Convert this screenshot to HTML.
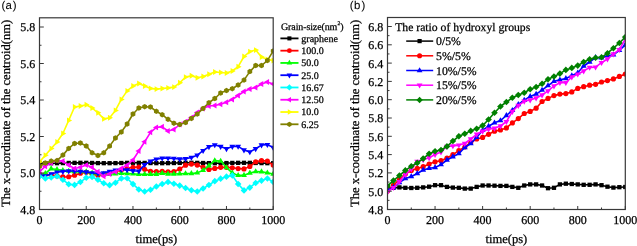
<!DOCTYPE html>
<html><head><meta charset="utf-8"><style>
html,body{margin:0;padding:0;background:#fff;}
body{width:637px;height:246px;overflow:hidden;font-family:"Liberation Serif",serif;}
svg{display:block;will-change:transform;}
text{text-rendering:geometricPrecision;stroke:#000;stroke-width:0.25px;}
</style></head><body>
<svg width="637" height="246" viewBox="0 0 637 246">
<text transform="translate(10.0,113.45) rotate(-90)" text-anchor="middle" font-family="Liberation Serif, serif" font-size="12.59">The x-coordinate of the centroid(nm)</text>
<text transform="translate(358.6,113.45) rotate(-90)" text-anchor="middle" font-family="Liberation Serif, serif" font-size="12.59">The x-coordinate of the centroid(nm)</text>
<text x="1.4" y="8.9" font-family="Liberation Sans, sans-serif" font-size="11.4" style="stroke-width:0.08px">(<tspan dx="0.2">a</tspan><tspan dx="1.1">)</tspan></text>
<text x="349.8" y="8.9" font-family="Liberation Sans, sans-serif" font-size="11.4" style="stroke-width:0.08px">(<tspan dx="0.4">b</tspan><tspan dx="1.2">)</tspan></text>
<defs><clipPath id="ca"><rect x="39.5" y="17.8" width="233.70" height="191.70"/></clipPath><clipPath id="cb"><rect x="387.5" y="17.5" width="237.80" height="192.00"/></clipPath></defs>
<g clip-path="url(#ca)"><path d="M39.50,163.00 L45.34,163.13 L51.19,163.20 L57.03,163.18 L62.87,163.08 L68.71,162.95 L74.56,162.84 L80.40,162.80 L86.24,162.85 L92.08,162.96 L97.92,163.09 L103.77,163.18 L109.61,163.19 L115.45,163.12 L121.30,162.99 L127.14,162.87 L132.98,162.80 L138.82,162.82 L144.67,162.92 L150.51,163.05 L156.35,163.16 L162.19,163.20 L168.03,163.15 L173.88,163.03 L179.72,162.90 L185.56,162.81 L191.41,162.81 L197.25,162.89 L203.09,163.01 L208.93,163.14 L214.78,163.20 L220.62,163.17 L226.46,163.07 L232.30,162.94 L238.15,162.83 L243.99,162.80 L249.83,162.86 L255.67,162.97 L261.51,163.10 L267.36,163.19 L273.20,163.19" fill="none" stroke="#000000" stroke-width="1.6" stroke-linejoin="round"/>
<rect x="37.35" y="160.85" width="4.29" height="4.29" fill="#000000"/>
<rect x="43.20" y="160.98" width="4.29" height="4.29" fill="#000000"/>
<rect x="49.04" y="161.05" width="4.29" height="4.29" fill="#000000"/>
<rect x="54.88" y="161.03" width="4.29" height="4.29" fill="#000000"/>
<rect x="60.73" y="160.94" width="4.29" height="4.29" fill="#000000"/>
<rect x="66.57" y="160.81" width="4.29" height="4.29" fill="#000000"/>
<rect x="72.41" y="160.70" width="4.29" height="4.29" fill="#000000"/>
<rect x="78.25" y="160.66" width="4.29" height="4.29" fill="#000000"/>
<rect x="84.10" y="160.70" width="4.29" height="4.29" fill="#000000"/>
<rect x="89.94" y="160.81" width="4.29" height="4.29" fill="#000000"/>
<rect x="95.78" y="160.95" width="4.29" height="4.29" fill="#000000"/>
<rect x="101.62" y="161.04" width="4.29" height="4.29" fill="#000000"/>
<rect x="107.47" y="161.05" width="4.29" height="4.29" fill="#000000"/>
<rect x="113.31" y="160.97" width="4.29" height="4.29" fill="#000000"/>
<rect x="119.15" y="160.85" width="4.29" height="4.29" fill="#000000"/>
<rect x="124.99" y="160.72" width="4.29" height="4.29" fill="#000000"/>
<rect x="130.84" y="160.66" width="4.29" height="4.29" fill="#000000"/>
<rect x="136.68" y="160.68" width="4.29" height="4.29" fill="#000000"/>
<rect x="142.52" y="160.78" width="4.29" height="4.29" fill="#000000"/>
<rect x="148.36" y="160.91" width="4.29" height="4.29" fill="#000000"/>
<rect x="154.20" y="161.02" width="4.29" height="4.29" fill="#000000"/>
<rect x="160.05" y="161.05" width="4.29" height="4.29" fill="#000000"/>
<rect x="165.89" y="161.00" width="4.29" height="4.29" fill="#000000"/>
<rect x="171.73" y="160.89" width="4.29" height="4.29" fill="#000000"/>
<rect x="177.57" y="160.76" width="4.29" height="4.29" fill="#000000"/>
<rect x="183.42" y="160.67" width="4.29" height="4.29" fill="#000000"/>
<rect x="189.26" y="160.66" width="4.29" height="4.29" fill="#000000"/>
<rect x="195.10" y="160.74" width="4.29" height="4.29" fill="#000000"/>
<rect x="200.94" y="160.87" width="4.29" height="4.29" fill="#000000"/>
<rect x="206.79" y="160.99" width="4.29" height="4.29" fill="#000000"/>
<rect x="212.63" y="161.05" width="4.29" height="4.29" fill="#000000"/>
<rect x="218.47" y="161.03" width="4.29" height="4.29" fill="#000000"/>
<rect x="224.31" y="160.93" width="4.29" height="4.29" fill="#000000"/>
<rect x="230.16" y="160.79" width="4.29" height="4.29" fill="#000000"/>
<rect x="236.00" y="160.69" width="4.29" height="4.29" fill="#000000"/>
<rect x="241.84" y="160.66" width="4.29" height="4.29" fill="#000000"/>
<rect x="247.69" y="160.71" width="4.29" height="4.29" fill="#000000"/>
<rect x="253.53" y="160.83" width="4.29" height="4.29" fill="#000000"/>
<rect x="259.37" y="160.96" width="4.29" height="4.29" fill="#000000"/>
<rect x="265.21" y="161.04" width="4.29" height="4.29" fill="#000000"/>
<rect x="271.06" y="161.04" width="4.29" height="4.29" fill="#000000"/>
<path d="M39.50,174.04 L45.34,174.57 L51.19,175.15 L57.03,175.89 L62.87,176.93 L68.71,176.76 L74.56,175.25 L80.40,173.28 L86.24,172.24 L92.08,174.09 L97.92,175.13 L103.77,174.22 L109.61,173.24 L115.45,171.67 L121.30,169.98 L127.14,168.51 L132.98,167.24 L138.82,166.99 L144.67,169.34 L150.51,171.31 L156.35,171.51 L162.19,171.43 L168.03,171.78 L173.88,171.47 L179.72,169.01 L185.56,165.20 L191.41,164.06 L197.25,165.05 L203.09,167.34 L208.93,169.53 L214.78,168.40 L220.62,167.35 L226.46,167.30 L232.30,167.83 L238.15,168.55 L243.99,168.88 L249.83,166.54 L255.67,161.79 L261.51,160.66 L267.36,161.06 L273.20,165.10" fill="none" stroke="#ff0000" stroke-width="1.6" stroke-linejoin="round"/>
<circle cx="39.50" cy="174.04" r="2.58" fill="#ff0000"/>
<circle cx="45.34" cy="174.57" r="2.58" fill="#ff0000"/>
<circle cx="51.19" cy="175.15" r="2.58" fill="#ff0000"/>
<circle cx="57.03" cy="175.89" r="2.58" fill="#ff0000"/>
<circle cx="62.87" cy="176.93" r="2.58" fill="#ff0000"/>
<circle cx="68.71" cy="176.76" r="2.58" fill="#ff0000"/>
<circle cx="74.56" cy="175.25" r="2.58" fill="#ff0000"/>
<circle cx="80.40" cy="173.28" r="2.58" fill="#ff0000"/>
<circle cx="86.24" cy="172.24" r="2.58" fill="#ff0000"/>
<circle cx="92.08" cy="174.09" r="2.58" fill="#ff0000"/>
<circle cx="97.92" cy="175.13" r="2.58" fill="#ff0000"/>
<circle cx="103.77" cy="174.22" r="2.58" fill="#ff0000"/>
<circle cx="109.61" cy="173.24" r="2.58" fill="#ff0000"/>
<circle cx="115.45" cy="171.67" r="2.58" fill="#ff0000"/>
<circle cx="121.30" cy="169.98" r="2.58" fill="#ff0000"/>
<circle cx="127.14" cy="168.51" r="2.58" fill="#ff0000"/>
<circle cx="132.98" cy="167.24" r="2.58" fill="#ff0000"/>
<circle cx="138.82" cy="166.99" r="2.58" fill="#ff0000"/>
<circle cx="144.67" cy="169.34" r="2.58" fill="#ff0000"/>
<circle cx="150.51" cy="171.31" r="2.58" fill="#ff0000"/>
<circle cx="156.35" cy="171.51" r="2.58" fill="#ff0000"/>
<circle cx="162.19" cy="171.43" r="2.58" fill="#ff0000"/>
<circle cx="168.03" cy="171.78" r="2.58" fill="#ff0000"/>
<circle cx="173.88" cy="171.47" r="2.58" fill="#ff0000"/>
<circle cx="179.72" cy="169.01" r="2.58" fill="#ff0000"/>
<circle cx="185.56" cy="165.20" r="2.58" fill="#ff0000"/>
<circle cx="191.41" cy="164.06" r="2.58" fill="#ff0000"/>
<circle cx="197.25" cy="165.05" r="2.58" fill="#ff0000"/>
<circle cx="203.09" cy="167.34" r="2.58" fill="#ff0000"/>
<circle cx="208.93" cy="169.53" r="2.58" fill="#ff0000"/>
<circle cx="214.78" cy="168.40" r="2.58" fill="#ff0000"/>
<circle cx="220.62" cy="167.35" r="2.58" fill="#ff0000"/>
<circle cx="226.46" cy="167.30" r="2.58" fill="#ff0000"/>
<circle cx="232.30" cy="167.83" r="2.58" fill="#ff0000"/>
<circle cx="238.15" cy="168.55" r="2.58" fill="#ff0000"/>
<circle cx="243.99" cy="168.88" r="2.58" fill="#ff0000"/>
<circle cx="249.83" cy="166.54" r="2.58" fill="#ff0000"/>
<circle cx="255.67" cy="161.79" r="2.58" fill="#ff0000"/>
<circle cx="261.51" cy="160.66" r="2.58" fill="#ff0000"/>
<circle cx="267.36" cy="161.06" r="2.58" fill="#ff0000"/>
<circle cx="273.20" cy="165.10" r="2.58" fill="#ff0000"/>
<path d="M39.50,175.11 L45.34,173.47 L51.19,168.68 L57.03,169.42 L62.87,170.38 L68.71,171.11 L74.56,171.58 L80.40,171.67 L86.24,171.70 L92.08,172.96 L97.92,173.75 L103.77,174.21 L109.61,174.30 L115.45,173.74 L121.30,173.30 L127.14,173.44 L132.98,173.86 L138.82,174.20 L144.67,174.20 L150.51,174.20 L156.35,174.20 L162.19,173.26 L168.03,173.96 L173.88,174.00 L179.72,173.72 L185.56,173.60 L191.41,173.50 L197.25,172.86 L203.09,170.33 L208.93,165.75 L214.78,160.60 L220.62,161.07 L226.46,167.56 L232.30,172.89 L238.15,175.40 L243.99,175.28 L249.83,172.97 L255.67,171.60 L261.51,171.78 L267.36,172.81 L273.20,174.00" fill="none" stroke="#00ff00" stroke-width="1.6" stroke-linejoin="round"/>
<polygon points="39.50,171.70 42.45,176.82 36.55,176.82" fill="#00ff00"/>
<polygon points="45.34,170.06 48.30,175.18 42.39,175.18" fill="#00ff00"/>
<polygon points="51.19,165.27 54.14,170.38 48.23,170.38" fill="#00ff00"/>
<polygon points="57.03,166.01 59.98,171.13 54.07,171.13" fill="#00ff00"/>
<polygon points="62.87,166.97 65.82,172.09 59.92,172.09" fill="#00ff00"/>
<polygon points="68.71,167.70 71.67,172.81 65.76,172.81" fill="#00ff00"/>
<polygon points="74.56,168.17 77.51,173.29 71.60,173.29" fill="#00ff00"/>
<polygon points="80.40,168.26 83.35,173.37 77.44,173.37" fill="#00ff00"/>
<polygon points="86.24,168.29 89.19,173.41 83.29,173.41" fill="#00ff00"/>
<polygon points="92.08,169.55 95.04,174.67 89.13,174.67" fill="#00ff00"/>
<polygon points="97.92,170.34 100.88,175.45 94.97,175.45" fill="#00ff00"/>
<polygon points="103.77,170.80 106.72,175.91 100.81,175.91" fill="#00ff00"/>
<polygon points="109.61,170.89 112.56,176.01 106.66,176.01" fill="#00ff00"/>
<polygon points="115.45,170.33 118.41,175.44 112.50,175.44" fill="#00ff00"/>
<polygon points="121.30,169.89 124.25,175.01 118.34,175.01" fill="#00ff00"/>
<polygon points="127.14,170.03 130.09,175.15 124.18,175.15" fill="#00ff00"/>
<polygon points="132.98,170.45 135.93,175.57 130.03,175.57" fill="#00ff00"/>
<polygon points="138.82,170.79 141.78,175.91 135.87,175.91" fill="#00ff00"/>
<polygon points="144.67,170.79 147.62,175.91 141.71,175.91" fill="#00ff00"/>
<polygon points="150.51,170.79 153.46,175.91 147.55,175.91" fill="#00ff00"/>
<polygon points="156.35,170.79 159.30,175.91 153.40,175.91" fill="#00ff00"/>
<polygon points="162.19,169.85 165.15,174.96 159.24,174.96" fill="#00ff00"/>
<polygon points="168.03,170.55 170.99,175.66 165.08,175.66" fill="#00ff00"/>
<polygon points="173.88,170.59 176.83,175.71 170.92,175.71" fill="#00ff00"/>
<polygon points="179.72,170.31 182.67,175.43 176.77,175.43" fill="#00ff00"/>
<polygon points="185.56,170.19 188.52,175.31 182.61,175.31" fill="#00ff00"/>
<polygon points="191.41,170.09 194.36,175.20 188.45,175.20" fill="#00ff00"/>
<polygon points="197.25,169.45 200.20,174.57 194.29,174.57" fill="#00ff00"/>
<polygon points="203.09,166.92 206.04,172.04 200.14,172.04" fill="#00ff00"/>
<polygon points="208.93,162.34 211.89,167.46 205.98,167.46" fill="#00ff00"/>
<polygon points="214.78,157.19 217.73,162.31 211.82,162.31" fill="#00ff00"/>
<polygon points="220.62,157.66 223.57,162.77 217.66,162.77" fill="#00ff00"/>
<polygon points="226.46,164.15 229.41,169.27 223.51,169.27" fill="#00ff00"/>
<polygon points="232.30,169.48 235.26,174.60 229.35,174.60" fill="#00ff00"/>
<polygon points="238.15,171.99 241.10,177.11 235.19,177.11" fill="#00ff00"/>
<polygon points="243.99,171.87 246.94,176.99 241.03,176.99" fill="#00ff00"/>
<polygon points="249.83,169.56 252.78,174.68 246.88,174.68" fill="#00ff00"/>
<polygon points="255.67,168.19 258.63,173.31 252.72,173.31" fill="#00ff00"/>
<polygon points="261.51,168.37 264.47,173.48 258.56,173.48" fill="#00ff00"/>
<polygon points="267.36,169.40 270.31,174.52 264.40,174.52" fill="#00ff00"/>
<polygon points="273.20,170.59 276.15,175.71 270.25,175.71" fill="#00ff00"/>
<path d="M39.50,175.28 L45.34,176.08 L51.19,174.07 L57.03,172.15 L62.87,171.52 L68.71,170.99 L74.56,171.02 L80.40,171.53 L86.24,172.02 L92.08,172.95 L97.92,173.56 L103.77,173.03 L109.61,171.39 L115.45,170.08 L121.30,169.60 L127.14,169.92 L132.98,170.81 L138.82,171.15 L144.67,164.69 L150.51,161.11 L156.35,159.09 L162.19,158.13 L168.03,158.10 L173.88,158.43 L179.72,159.00 L185.56,158.82 L191.41,157.42 L197.25,155.17 L203.09,150.67 L208.93,146.75 L214.78,144.94 L220.62,146.50 L226.46,148.73 L232.30,146.52 L238.15,146.36 L243.99,150.07 L249.83,151.90 L255.67,148.75 L261.51,145.06 L267.36,144.62 L273.20,147.50" fill="none" stroke="#0000ff" stroke-width="1.6" stroke-linejoin="round"/>
<polygon points="39.50,178.69 36.55,173.57 42.45,173.57" fill="#0000ff"/>
<polygon points="45.34,179.49 42.39,174.37 48.30,174.37" fill="#0000ff"/>
<polygon points="51.19,177.48 48.23,172.37 54.14,172.37" fill="#0000ff"/>
<polygon points="57.03,175.56 54.07,170.45 59.98,170.45" fill="#0000ff"/>
<polygon points="62.87,174.93 59.92,169.81 65.82,169.81" fill="#0000ff"/>
<polygon points="68.71,174.40 65.76,169.29 71.67,169.29" fill="#0000ff"/>
<polygon points="74.56,174.43 71.60,169.31 77.51,169.31" fill="#0000ff"/>
<polygon points="80.40,174.94 77.44,169.83 83.35,169.83" fill="#0000ff"/>
<polygon points="86.24,175.43 83.29,170.31 89.19,170.31" fill="#0000ff"/>
<polygon points="92.08,176.36 89.13,171.25 95.04,171.25" fill="#0000ff"/>
<polygon points="97.92,176.97 94.97,171.86 100.88,171.86" fill="#0000ff"/>
<polygon points="103.77,176.44 100.81,171.32 106.72,171.32" fill="#0000ff"/>
<polygon points="109.61,174.80 106.66,169.68 112.56,169.68" fill="#0000ff"/>
<polygon points="115.45,173.49 112.50,168.38 118.41,168.38" fill="#0000ff"/>
<polygon points="121.30,173.01 118.34,167.89 124.25,167.89" fill="#0000ff"/>
<polygon points="127.14,173.33 124.18,168.21 130.09,168.21" fill="#0000ff"/>
<polygon points="132.98,174.22 130.03,169.11 135.93,169.11" fill="#0000ff"/>
<polygon points="138.82,174.56 135.87,169.45 141.78,169.45" fill="#0000ff"/>
<polygon points="144.67,168.10 141.71,162.99 147.62,162.99" fill="#0000ff"/>
<polygon points="150.51,164.52 147.55,159.41 153.46,159.41" fill="#0000ff"/>
<polygon points="156.35,162.50 153.40,157.39 159.30,157.39" fill="#0000ff"/>
<polygon points="162.19,161.54 159.24,156.43 165.15,156.43" fill="#0000ff"/>
<polygon points="168.03,161.51 165.08,156.40 170.99,156.40" fill="#0000ff"/>
<polygon points="173.88,161.84 170.92,156.73 176.83,156.73" fill="#0000ff"/>
<polygon points="179.72,162.41 176.77,157.29 182.67,157.29" fill="#0000ff"/>
<polygon points="185.56,162.23 182.61,157.12 188.52,157.12" fill="#0000ff"/>
<polygon points="191.41,160.83 188.45,155.71 194.36,155.71" fill="#0000ff"/>
<polygon points="197.25,158.58 194.29,153.46 200.20,153.46" fill="#0000ff"/>
<polygon points="203.09,154.08 200.14,148.96 206.04,148.96" fill="#0000ff"/>
<polygon points="208.93,150.16 205.98,145.04 211.89,145.04" fill="#0000ff"/>
<polygon points="214.78,148.35 211.82,143.24 217.73,143.24" fill="#0000ff"/>
<polygon points="220.62,149.91 217.66,144.80 223.57,144.80" fill="#0000ff"/>
<polygon points="226.46,152.14 223.51,147.02 229.41,147.02" fill="#0000ff"/>
<polygon points="232.30,149.93 229.35,144.82 235.26,144.82" fill="#0000ff"/>
<polygon points="238.15,149.77 235.19,144.65 241.10,144.65" fill="#0000ff"/>
<polygon points="243.99,153.48 241.03,148.36 246.94,148.36" fill="#0000ff"/>
<polygon points="249.83,155.31 246.88,150.19 252.78,150.19" fill="#0000ff"/>
<polygon points="255.67,152.16 252.72,147.05 258.63,147.05" fill="#0000ff"/>
<polygon points="261.51,148.47 258.56,143.36 264.47,143.36" fill="#0000ff"/>
<polygon points="267.36,148.03 264.40,142.92 270.31,142.92" fill="#0000ff"/>
<polygon points="273.20,150.91 270.25,145.79 276.15,145.79" fill="#0000ff"/>
<path d="M39.50,176.46 L45.34,178.39 L51.19,177.44 L57.03,176.32 L62.87,179.82 L68.71,184.20 L74.56,184.90 L80.40,182.04 L86.24,177.67 L92.08,176.92 L97.92,179.73 L103.77,183.32 L109.61,185.16 L115.45,182.72 L121.30,178.38 L127.14,178.24 L132.98,184.10 L138.82,189.44 L144.67,191.57 L150.51,189.68 L156.35,186.48 L162.19,183.94 L168.03,182.02 L173.88,183.70 L179.72,185.62 L185.56,187.93 L191.41,190.21 L197.25,191.43 L203.09,188.55 L208.93,184.98 L214.78,181.14 L220.62,178.66 L226.46,176.67 L232.30,175.38 L238.15,184.03 L243.99,190.39 L249.83,187.60 L255.67,182.97 L261.51,180.60 L267.36,178.48 L273.20,181.90" fill="none" stroke="#00ffff" stroke-width="1.6" stroke-linejoin="round"/>
<polygon points="39.50,173.16 42.80,176.46 39.50,179.76 36.20,176.46" fill="#00ffff"/>
<polygon points="45.34,175.09 48.64,178.39 45.34,181.69 42.04,178.39" fill="#00ffff"/>
<polygon points="51.19,174.14 54.48,177.44 51.19,180.74 47.89,177.44" fill="#00ffff"/>
<polygon points="57.03,173.02 60.33,176.32 57.03,179.62 53.73,176.32" fill="#00ffff"/>
<polygon points="62.87,176.52 66.17,179.82 62.87,183.12 59.57,179.82" fill="#00ffff"/>
<polygon points="68.71,180.90 72.01,184.20 68.71,187.50 65.41,184.20" fill="#00ffff"/>
<polygon points="74.56,181.60 77.86,184.90 74.56,188.20 71.26,184.90" fill="#00ffff"/>
<polygon points="80.40,178.74 83.70,182.04 80.40,185.34 77.10,182.04" fill="#00ffff"/>
<polygon points="86.24,174.37 89.54,177.67 86.24,180.97 82.94,177.67" fill="#00ffff"/>
<polygon points="92.08,173.62 95.38,176.92 92.08,180.22 88.78,176.92" fill="#00ffff"/>
<polygon points="97.92,176.43 101.22,179.73 97.92,183.03 94.62,179.73" fill="#00ffff"/>
<polygon points="103.77,180.02 107.07,183.32 103.77,186.62 100.47,183.32" fill="#00ffff"/>
<polygon points="109.61,181.86 112.91,185.16 109.61,188.46 106.31,185.16" fill="#00ffff"/>
<polygon points="115.45,179.42 118.75,182.72 115.45,186.02 112.15,182.72" fill="#00ffff"/>
<polygon points="121.30,175.08 124.59,178.38 121.30,181.68 118.00,178.38" fill="#00ffff"/>
<polygon points="127.14,174.94 130.44,178.24 127.14,181.54 123.84,178.24" fill="#00ffff"/>
<polygon points="132.98,180.80 136.28,184.10 132.98,187.40 129.68,184.10" fill="#00ffff"/>
<polygon points="138.82,186.14 142.12,189.44 138.82,192.74 135.52,189.44" fill="#00ffff"/>
<polygon points="144.67,188.27 147.97,191.57 144.67,194.87 141.37,191.57" fill="#00ffff"/>
<polygon points="150.51,186.38 153.81,189.68 150.51,192.98 147.21,189.68" fill="#00ffff"/>
<polygon points="156.35,183.18 159.65,186.48 156.35,189.78 153.05,186.48" fill="#00ffff"/>
<polygon points="162.19,180.64 165.49,183.94 162.19,187.24 158.89,183.94" fill="#00ffff"/>
<polygon points="168.03,178.72 171.34,182.02 168.03,185.32 164.73,182.02" fill="#00ffff"/>
<polygon points="173.88,180.40 177.18,183.70 173.88,187.00 170.58,183.70" fill="#00ffff"/>
<polygon points="179.72,182.32 183.02,185.62 179.72,188.92 176.42,185.62" fill="#00ffff"/>
<polygon points="185.56,184.63 188.86,187.93 185.56,191.23 182.26,187.93" fill="#00ffff"/>
<polygon points="191.41,186.91 194.71,190.21 191.41,193.51 188.10,190.21" fill="#00ffff"/>
<polygon points="197.25,188.13 200.55,191.43 197.25,194.73 193.95,191.43" fill="#00ffff"/>
<polygon points="203.09,185.25 206.39,188.55 203.09,191.85 199.79,188.55" fill="#00ffff"/>
<polygon points="208.93,181.68 212.23,184.98 208.93,188.28 205.63,184.98" fill="#00ffff"/>
<polygon points="214.78,177.84 218.08,181.14 214.78,184.44 211.47,181.14" fill="#00ffff"/>
<polygon points="220.62,175.36 223.92,178.66 220.62,181.96 217.32,178.66" fill="#00ffff"/>
<polygon points="226.46,173.37 229.76,176.67 226.46,179.97 223.16,176.67" fill="#00ffff"/>
<polygon points="232.30,172.08 235.60,175.38 232.30,178.68 229.00,175.38" fill="#00ffff"/>
<polygon points="238.15,180.73 241.45,184.03 238.15,187.33 234.84,184.03" fill="#00ffff"/>
<polygon points="243.99,187.09 247.29,190.39 243.99,193.69 240.69,190.39" fill="#00ffff"/>
<polygon points="249.83,184.30 253.13,187.60 249.83,190.90 246.53,187.60" fill="#00ffff"/>
<polygon points="255.67,179.67 258.97,182.97 255.67,186.27 252.37,182.97" fill="#00ffff"/>
<polygon points="261.51,177.30 264.81,180.60 261.51,183.90 258.21,180.60" fill="#00ffff"/>
<polygon points="267.36,175.18 270.66,178.48 267.36,181.78 264.06,178.48" fill="#00ffff"/>
<polygon points="273.20,178.60 276.50,181.90 273.20,185.20 269.90,181.90" fill="#00ffff"/>
<path d="M39.50,171.80 L45.34,166.20 L51.19,163.00 L57.03,160.60 L62.87,161.10 L68.71,165.10 L74.56,168.50 L80.40,167.30 L86.24,165.10 L92.08,167.30 L97.92,171.80 L103.77,176.30 L109.61,174.00 L115.45,171.80 L121.30,168.50 L127.14,165.10 L132.98,160.00 L138.82,151.00 L144.67,141.70 L150.51,132.30 L156.35,127.40 L162.19,126.80 L168.03,131.00 L173.88,129.50 L179.72,124.50 L185.56,121.70 L191.41,117.60 L197.25,112.50 L203.09,108.50 L208.93,106.00 L214.78,105.50 L220.62,104.20 L226.46,102.20 L232.30,99.50 L238.15,95.50 L243.99,91.50 L249.83,89.00 L255.67,87.50 L261.51,84.00 L267.36,82.00 L273.20,84.00" fill="none" stroke="#ff00ff" stroke-width="1.6" stroke-linejoin="round"/>
<polygon points="36.09,171.80 41.20,168.85 41.20,174.75" fill="#ff00ff"/>
<polygon points="41.93,166.20 47.05,163.25 47.05,169.15" fill="#ff00ff"/>
<polygon points="47.78,163.00 52.89,160.05 52.89,165.95" fill="#ff00ff"/>
<polygon points="53.62,160.60 58.73,157.65 58.73,163.55" fill="#ff00ff"/>
<polygon points="59.46,161.10 64.58,158.15 64.58,164.05" fill="#ff00ff"/>
<polygon points="65.30,165.10 70.42,162.15 70.42,168.05" fill="#ff00ff"/>
<polygon points="71.15,168.50 76.26,165.55 76.26,171.45" fill="#ff00ff"/>
<polygon points="76.99,167.30 82.10,164.35 82.10,170.25" fill="#ff00ff"/>
<polygon points="82.83,165.10 87.95,162.15 87.95,168.05" fill="#ff00ff"/>
<polygon points="88.67,167.30 93.79,164.35 93.79,170.25" fill="#ff00ff"/>
<polygon points="94.52,171.80 99.63,168.85 99.63,174.75" fill="#ff00ff"/>
<polygon points="100.36,176.30 105.47,173.35 105.47,179.25" fill="#ff00ff"/>
<polygon points="106.20,174.00 111.31,171.05 111.31,176.95" fill="#ff00ff"/>
<polygon points="112.04,171.80 117.16,168.85 117.16,174.75" fill="#ff00ff"/>
<polygon points="117.89,168.50 123.00,165.55 123.00,171.45" fill="#ff00ff"/>
<polygon points="123.73,165.10 128.84,162.15 128.84,168.05" fill="#ff00ff"/>
<polygon points="129.57,160.00 134.69,157.05 134.69,162.95" fill="#ff00ff"/>
<polygon points="135.41,151.00 140.53,148.05 140.53,153.95" fill="#ff00ff"/>
<polygon points="141.26,141.70 146.37,138.75 146.37,144.65" fill="#ff00ff"/>
<polygon points="147.10,132.30 152.21,129.35 152.21,135.25" fill="#ff00ff"/>
<polygon points="152.94,127.40 158.06,124.45 158.06,130.35" fill="#ff00ff"/>
<polygon points="158.78,126.80 163.90,123.85 163.90,129.75" fill="#ff00ff"/>
<polygon points="164.62,131.00 169.74,128.05 169.74,133.95" fill="#ff00ff"/>
<polygon points="170.47,129.50 175.58,126.55 175.58,132.45" fill="#ff00ff"/>
<polygon points="176.31,124.50 181.43,121.55 181.43,127.45" fill="#ff00ff"/>
<polygon points="182.15,121.70 187.27,118.75 187.27,124.65" fill="#ff00ff"/>
<polygon points="188.00,117.60 193.11,114.65 193.11,120.55" fill="#ff00ff"/>
<polygon points="193.84,112.50 198.95,109.55 198.95,115.45" fill="#ff00ff"/>
<polygon points="199.68,108.50 204.80,105.55 204.80,111.45" fill="#ff00ff"/>
<polygon points="205.52,106.00 210.64,103.05 210.64,108.95" fill="#ff00ff"/>
<polygon points="211.37,105.50 216.48,102.55 216.48,108.45" fill="#ff00ff"/>
<polygon points="217.21,104.20 222.32,101.25 222.32,107.15" fill="#ff00ff"/>
<polygon points="223.05,102.20 228.17,99.25 228.17,105.15" fill="#ff00ff"/>
<polygon points="228.89,99.50 234.01,96.55 234.01,102.45" fill="#ff00ff"/>
<polygon points="234.74,95.50 239.85,92.55 239.85,98.45" fill="#ff00ff"/>
<polygon points="240.58,91.50 245.69,88.55 245.69,94.45" fill="#ff00ff"/>
<polygon points="246.42,89.00 251.54,86.05 251.54,91.95" fill="#ff00ff"/>
<polygon points="252.26,87.50 257.38,84.55 257.38,90.45" fill="#ff00ff"/>
<polygon points="258.10,84.00 263.22,81.05 263.22,86.95" fill="#ff00ff"/>
<polygon points="263.95,82.00 269.06,79.05 269.06,84.95" fill="#ff00ff"/>
<polygon points="269.79,84.00 274.90,81.05 274.90,86.95" fill="#ff00ff"/>
<path d="M39.50,162.00 L45.34,155.30 L51.19,148.50 L57.03,142.00 L62.87,133.50 L68.71,120.40 L74.56,107.00 L80.40,106.00 L86.24,104.80 L92.08,108.00 L97.92,112.80 L103.77,118.90 L109.61,117.70 L115.45,110.40 L121.30,99.40 L127.14,90.90 L132.98,86.00 L138.82,83.50 L144.67,86.00 L150.51,88.40 L156.35,89.10 L162.19,88.50 L168.03,87.90 L173.88,87.10 L179.72,82.80 L185.56,77.10 L191.41,75.70 L197.25,77.70 L203.09,76.50 L208.93,74.20 L214.78,72.00 L220.62,72.50 L226.46,73.00 L232.30,71.00 L238.15,66.70 L243.99,56.50 L249.83,51.60 L255.67,50.10 L261.51,57.00 L267.36,59.40 L273.20,60.60" fill="none" stroke="#ffff00" stroke-width="1.6" stroke-linejoin="round"/>
<polygon points="42.91,162.00 37.80,164.95 37.80,159.05" fill="#ffff00"/>
<polygon points="48.75,155.30 43.64,158.25 43.64,152.35" fill="#ffff00"/>
<polygon points="54.59,148.50 49.48,151.45 49.48,145.55" fill="#ffff00"/>
<polygon points="60.44,142.00 55.32,144.95 55.32,139.05" fill="#ffff00"/>
<polygon points="66.28,133.50 61.17,136.45 61.17,130.55" fill="#ffff00"/>
<polygon points="72.12,120.40 67.01,123.35 67.01,117.45" fill="#ffff00"/>
<polygon points="77.97,107.00 72.85,109.95 72.85,104.05" fill="#ffff00"/>
<polygon points="83.81,106.00 78.69,108.95 78.69,103.05" fill="#ffff00"/>
<polygon points="89.65,104.80 84.54,107.75 84.54,101.85" fill="#ffff00"/>
<polygon points="95.49,108.00 90.38,110.95 90.38,105.05" fill="#ffff00"/>
<polygon points="101.33,112.80 96.22,115.75 96.22,109.85" fill="#ffff00"/>
<polygon points="107.18,118.90 102.06,121.85 102.06,115.95" fill="#ffff00"/>
<polygon points="113.02,117.70 107.91,120.65 107.91,114.75" fill="#ffff00"/>
<polygon points="118.86,110.40 113.75,113.35 113.75,107.45" fill="#ffff00"/>
<polygon points="124.70,99.40 119.59,102.35 119.59,96.45" fill="#ffff00"/>
<polygon points="130.55,90.90 125.43,93.85 125.43,87.95" fill="#ffff00"/>
<polygon points="136.39,86.00 131.28,88.95 131.28,83.05" fill="#ffff00"/>
<polygon points="142.23,83.50 137.12,86.45 137.12,80.55" fill="#ffff00"/>
<polygon points="148.08,86.00 142.96,88.95 142.96,83.05" fill="#ffff00"/>
<polygon points="153.92,88.40 148.80,91.35 148.80,85.45" fill="#ffff00"/>
<polygon points="159.76,89.10 154.64,92.05 154.64,86.15" fill="#ffff00"/>
<polygon points="165.60,88.50 160.49,91.45 160.49,85.55" fill="#ffff00"/>
<polygon points="171.44,87.90 166.33,90.85 166.33,84.95" fill="#ffff00"/>
<polygon points="177.29,87.10 172.17,90.05 172.17,84.15" fill="#ffff00"/>
<polygon points="183.13,82.80 178.01,85.75 178.01,79.85" fill="#ffff00"/>
<polygon points="188.97,77.10 183.86,80.05 183.86,74.15" fill="#ffff00"/>
<polygon points="194.81,75.70 189.70,78.65 189.70,72.75" fill="#ffff00"/>
<polygon points="200.66,77.70 195.54,80.65 195.54,74.75" fill="#ffff00"/>
<polygon points="206.50,76.50 201.38,79.45 201.38,73.55" fill="#ffff00"/>
<polygon points="212.34,74.20 207.23,77.15 207.23,71.25" fill="#ffff00"/>
<polygon points="218.19,72.00 213.07,74.95 213.07,69.05" fill="#ffff00"/>
<polygon points="224.03,72.50 218.91,75.45 218.91,69.55" fill="#ffff00"/>
<polygon points="229.87,73.00 224.75,75.95 224.75,70.05" fill="#ffff00"/>
<polygon points="235.71,71.00 230.60,73.95 230.60,68.05" fill="#ffff00"/>
<polygon points="241.56,66.70 236.44,69.65 236.44,63.75" fill="#ffff00"/>
<polygon points="247.40,56.50 242.28,59.45 242.28,53.55" fill="#ffff00"/>
<polygon points="253.24,51.60 248.12,54.55 248.12,48.65" fill="#ffff00"/>
<polygon points="259.08,50.10 253.97,53.05 253.97,47.15" fill="#ffff00"/>
<polygon points="264.93,57.00 259.81,59.95 259.81,54.05" fill="#ffff00"/>
<polygon points="270.77,59.40 265.65,62.35 265.65,56.45" fill="#ffff00"/>
<polygon points="276.61,60.60 271.50,63.55 271.50,57.65" fill="#ffff00"/>
<path d="M39.50,166.50 L45.34,163.00 L51.19,161.10 L57.03,160.60 L62.87,155.10 L68.71,148.40 L74.56,143.50 L80.40,143.00 L86.24,146.00 L92.08,152.80 L97.92,155.50 L103.77,152.80 L109.61,146.10 L115.45,138.00 L121.30,132.00 L127.14,124.00 L132.98,114.00 L138.82,108.00 L144.67,106.70 L150.51,107.00 L156.35,111.30 L162.19,114.70 L168.03,119.30 L173.88,123.20 L179.72,124.50 L185.56,122.50 L191.41,118.40 L197.25,114.10 L203.09,108.40 L208.93,102.70 L214.78,98.50 L220.62,93.00 L226.46,90.60 L232.30,88.70 L238.15,85.00 L243.99,80.10 L249.83,71.60 L255.67,65.50 L261.51,65.50 L267.36,60.60 L273.20,50.90" fill="none" stroke="#808000" stroke-width="1.6" stroke-linejoin="round"/>
<polygon points="41.88,167.88 39.50,169.25 37.12,167.88 37.12,165.12 39.50,163.75 41.88,165.12" fill="#808000"/>
<polygon points="47.72,164.38 45.34,165.75 42.96,164.38 42.96,161.62 45.34,160.25 47.72,161.62" fill="#808000"/>
<polygon points="53.57,162.47 51.19,163.85 48.80,162.47 48.80,159.72 51.19,158.35 53.57,159.72" fill="#808000"/>
<polygon points="59.41,161.97 57.03,163.35 54.65,161.97 54.65,159.22 57.03,157.85 59.41,159.22" fill="#808000"/>
<polygon points="65.25,156.47 62.87,157.85 60.49,156.47 60.49,153.72 62.87,152.35 65.25,153.72" fill="#808000"/>
<polygon points="71.09,149.78 68.71,151.15 66.33,149.78 66.33,147.03 68.71,145.65 71.09,147.03" fill="#808000"/>
<polygon points="76.94,144.88 74.56,146.25 72.17,144.88 72.17,142.12 74.56,140.75 76.94,142.12" fill="#808000"/>
<polygon points="82.78,144.38 80.40,145.75 78.02,144.38 78.02,141.62 80.40,140.25 82.78,141.62" fill="#808000"/>
<polygon points="88.62,147.38 86.24,148.75 83.86,147.38 83.86,144.62 86.24,143.25 88.62,144.62" fill="#808000"/>
<polygon points="94.46,154.18 92.08,155.55 89.70,154.18 89.70,151.43 92.08,150.05 94.46,151.43" fill="#808000"/>
<polygon points="100.31,156.88 97.92,158.25 95.54,156.88 95.54,154.12 97.92,152.75 100.31,154.12" fill="#808000"/>
<polygon points="106.15,154.18 103.77,155.55 101.39,154.18 101.39,151.43 103.77,150.05 106.15,151.43" fill="#808000"/>
<polygon points="111.99,147.47 109.61,148.85 107.23,147.47 107.23,144.72 109.61,143.35 111.99,144.72" fill="#808000"/>
<polygon points="117.83,139.38 115.45,140.75 113.07,139.38 113.07,136.62 115.45,135.25 117.83,136.62" fill="#808000"/>
<polygon points="123.68,133.38 121.30,134.75 118.91,133.38 118.91,130.62 121.30,129.25 123.68,130.62" fill="#808000"/>
<polygon points="129.52,125.38 127.14,126.75 124.76,125.38 124.76,122.62 127.14,121.25 129.52,122.62" fill="#808000"/>
<polygon points="135.36,115.38 132.98,116.75 130.60,115.38 130.60,112.62 132.98,111.25 135.36,112.62" fill="#808000"/>
<polygon points="141.20,109.38 138.82,110.75 136.44,109.38 136.44,106.62 138.82,105.25 141.20,106.62" fill="#808000"/>
<polygon points="147.05,108.08 144.67,109.45 142.28,108.08 142.28,105.33 144.67,103.95 147.05,105.33" fill="#808000"/>
<polygon points="152.89,108.38 150.51,109.75 148.13,108.38 148.13,105.62 150.51,104.25 152.89,105.62" fill="#808000"/>
<polygon points="158.73,112.67 156.35,114.05 153.97,112.67 153.97,109.92 156.35,108.55 158.73,109.92" fill="#808000"/>
<polygon points="164.57,116.08 162.19,117.45 159.81,116.08 159.81,113.33 162.19,111.95 164.57,113.33" fill="#808000"/>
<polygon points="170.42,120.67 168.03,122.05 165.65,120.67 165.65,117.92 168.03,116.55 170.42,117.92" fill="#808000"/>
<polygon points="176.26,124.58 173.88,125.95 171.50,124.58 171.50,121.83 173.88,120.45 176.26,121.83" fill="#808000"/>
<polygon points="182.10,125.88 179.72,127.25 177.34,125.88 177.34,123.12 179.72,121.75 182.10,123.12" fill="#808000"/>
<polygon points="187.94,123.88 185.56,125.25 183.18,123.88 183.18,121.12 185.56,119.75 187.94,121.12" fill="#808000"/>
<polygon points="193.79,119.78 191.41,121.15 189.02,119.78 189.02,117.03 191.41,115.65 193.79,117.03" fill="#808000"/>
<polygon points="199.63,115.47 197.25,116.85 194.87,115.47 194.87,112.72 197.25,111.35 199.63,112.72" fill="#808000"/>
<polygon points="205.47,109.78 203.09,111.15 200.71,109.78 200.71,107.03 203.09,105.65 205.47,107.03" fill="#808000"/>
<polygon points="211.31,104.08 208.93,105.45 206.55,104.08 206.55,101.33 208.93,99.95 211.31,101.33" fill="#808000"/>
<polygon points="217.16,99.88 214.78,101.25 212.39,99.88 212.39,97.12 214.78,95.75 217.16,97.12" fill="#808000"/>
<polygon points="223.00,94.38 220.62,95.75 218.24,94.38 218.24,91.62 220.62,90.25 223.00,91.62" fill="#808000"/>
<polygon points="228.84,91.97 226.46,93.35 224.08,91.97 224.08,89.22 226.46,87.85 228.84,89.22" fill="#808000"/>
<polygon points="234.68,90.08 232.30,91.45 229.92,90.08 229.92,87.33 232.30,85.95 234.68,87.33" fill="#808000"/>
<polygon points="240.53,86.38 238.15,87.75 235.76,86.38 235.76,83.62 238.15,82.25 240.53,83.62" fill="#808000"/>
<polygon points="246.37,81.47 243.99,82.85 241.61,81.47 241.61,78.72 243.99,77.35 246.37,78.72" fill="#808000"/>
<polygon points="252.21,72.97 249.83,74.35 247.45,72.97 247.45,70.22 249.83,68.85 252.21,70.22" fill="#808000"/>
<polygon points="258.05,66.88 255.67,68.25 253.29,66.88 253.29,64.12 255.67,62.75 258.05,64.12" fill="#808000"/>
<polygon points="263.90,66.88 261.51,68.25 259.13,66.88 259.13,64.12 261.51,62.75 263.90,64.12" fill="#808000"/>
<polygon points="269.74,61.98 267.36,63.35 264.98,61.98 264.98,59.23 267.36,57.85 269.74,59.23" fill="#808000"/>
<polygon points="275.58,52.27 273.20,53.65 270.82,52.27 270.82,49.52 273.20,48.15 275.58,49.52" fill="#808000"/></g>
<g clip-path="url(#cb)"><path d="M387.50,188.50 L393.44,187.80 L399.39,187.40 L405.33,187.80 L411.28,188.00 L417.23,187.80 L423.17,187.40 L429.12,186.70 L435.06,185.20 L441.00,185.20 L446.95,186.90 L452.89,187.60 L458.84,187.80 L464.78,188.60 L470.73,188.60 L476.67,186.90 L482.62,185.50 L488.56,185.50 L494.51,185.70 L500.45,185.90 L506.40,185.90 L512.35,186.90 L518.29,187.80 L524.23,185.50 L530.18,184.40 L536.12,184.40 L542.07,185.50 L548.01,188.20 L553.96,187.80 L559.90,184.40 L565.85,183.70 L571.79,184.00 L577.74,184.40 L583.68,184.80 L589.63,184.80 L595.57,184.40 L601.52,185.20 L607.46,186.70 L613.41,187.60 L619.35,187.20 L625.30,187.00" fill="none" stroke="#000000" stroke-width="1.6" stroke-linejoin="round"/>
<rect x="385.36" y="186.35" width="4.29" height="4.29" fill="#000000"/>
<rect x="391.30" y="185.66" width="4.29" height="4.29" fill="#000000"/>
<rect x="397.25" y="185.25" width="4.29" height="4.29" fill="#000000"/>
<rect x="403.19" y="185.66" width="4.29" height="4.29" fill="#000000"/>
<rect x="409.13" y="185.85" width="4.29" height="4.29" fill="#000000"/>
<rect x="415.08" y="185.66" width="4.29" height="4.29" fill="#000000"/>
<rect x="421.03" y="185.25" width="4.29" height="4.29" fill="#000000"/>
<rect x="426.97" y="184.55" width="4.29" height="4.29" fill="#000000"/>
<rect x="432.92" y="183.05" width="4.29" height="4.29" fill="#000000"/>
<rect x="438.86" y="183.05" width="4.29" height="4.29" fill="#000000"/>
<rect x="444.81" y="184.75" width="4.29" height="4.29" fill="#000000"/>
<rect x="450.75" y="185.45" width="4.29" height="4.29" fill="#000000"/>
<rect x="456.69" y="185.66" width="4.29" height="4.29" fill="#000000"/>
<rect x="462.64" y="186.45" width="4.29" height="4.29" fill="#000000"/>
<rect x="468.59" y="186.45" width="4.29" height="4.29" fill="#000000"/>
<rect x="474.53" y="184.75" width="4.29" height="4.29" fill="#000000"/>
<rect x="480.48" y="183.35" width="4.29" height="4.29" fill="#000000"/>
<rect x="486.42" y="183.35" width="4.29" height="4.29" fill="#000000"/>
<rect x="492.37" y="183.55" width="4.29" height="4.29" fill="#000000"/>
<rect x="498.31" y="183.75" width="4.29" height="4.29" fill="#000000"/>
<rect x="504.25" y="183.75" width="4.29" height="4.29" fill="#000000"/>
<rect x="510.20" y="184.75" width="4.29" height="4.29" fill="#000000"/>
<rect x="516.14" y="185.66" width="4.29" height="4.29" fill="#000000"/>
<rect x="522.09" y="183.35" width="4.29" height="4.29" fill="#000000"/>
<rect x="528.03" y="182.25" width="4.29" height="4.29" fill="#000000"/>
<rect x="533.98" y="182.25" width="4.29" height="4.29" fill="#000000"/>
<rect x="539.92" y="183.35" width="4.29" height="4.29" fill="#000000"/>
<rect x="545.87" y="186.05" width="4.29" height="4.29" fill="#000000"/>
<rect x="551.82" y="185.66" width="4.29" height="4.29" fill="#000000"/>
<rect x="557.76" y="182.25" width="4.29" height="4.29" fill="#000000"/>
<rect x="563.70" y="181.55" width="4.29" height="4.29" fill="#000000"/>
<rect x="569.65" y="181.85" width="4.29" height="4.29" fill="#000000"/>
<rect x="575.60" y="182.25" width="4.29" height="4.29" fill="#000000"/>
<rect x="581.54" y="182.66" width="4.29" height="4.29" fill="#000000"/>
<rect x="587.49" y="182.66" width="4.29" height="4.29" fill="#000000"/>
<rect x="593.43" y="182.25" width="4.29" height="4.29" fill="#000000"/>
<rect x="599.38" y="183.05" width="4.29" height="4.29" fill="#000000"/>
<rect x="605.32" y="184.55" width="4.29" height="4.29" fill="#000000"/>
<rect x="611.26" y="185.45" width="4.29" height="4.29" fill="#000000"/>
<rect x="617.21" y="185.05" width="4.29" height="4.29" fill="#000000"/>
<rect x="623.15" y="184.85" width="4.29" height="4.29" fill="#000000"/>
<path d="M387.50,191.00 L393.44,185.00 L399.39,179.50 L405.33,174.00 L411.28,170.50 L417.23,168.40 L423.17,166.70 L429.12,164.00 L435.06,161.80 L441.00,160.70 L446.95,158.00 L452.89,154.60 L458.84,150.60 L464.78,147.00 L470.73,142.50 L476.67,139.00 L482.62,137.40 L488.56,134.30 L494.51,131.20 L500.45,129.90 L506.40,127.90 L512.35,122.90 L518.29,118.60 L524.23,113.50 L530.18,111.40 L536.12,108.20 L542.07,101.50 L548.01,98.40 L553.96,95.60 L559.90,94.10 L565.85,93.60 L571.79,91.90 L577.74,88.40 L583.68,86.70 L589.63,85.20 L595.57,84.30 L601.52,82.00 L607.46,80.60 L613.41,78.90 L619.35,76.40 L625.30,74.00" fill="none" stroke="#ff0000" stroke-width="1.6" stroke-linejoin="round"/>
<circle cx="387.50" cy="191.00" r="2.58" fill="#ff0000"/>
<circle cx="393.44" cy="185.00" r="2.58" fill="#ff0000"/>
<circle cx="399.39" cy="179.50" r="2.58" fill="#ff0000"/>
<circle cx="405.33" cy="174.00" r="2.58" fill="#ff0000"/>
<circle cx="411.28" cy="170.50" r="2.58" fill="#ff0000"/>
<circle cx="417.23" cy="168.40" r="2.58" fill="#ff0000"/>
<circle cx="423.17" cy="166.70" r="2.58" fill="#ff0000"/>
<circle cx="429.12" cy="164.00" r="2.58" fill="#ff0000"/>
<circle cx="435.06" cy="161.80" r="2.58" fill="#ff0000"/>
<circle cx="441.00" cy="160.70" r="2.58" fill="#ff0000"/>
<circle cx="446.95" cy="158.00" r="2.58" fill="#ff0000"/>
<circle cx="452.89" cy="154.60" r="2.58" fill="#ff0000"/>
<circle cx="458.84" cy="150.60" r="2.58" fill="#ff0000"/>
<circle cx="464.78" cy="147.00" r="2.58" fill="#ff0000"/>
<circle cx="470.73" cy="142.50" r="2.58" fill="#ff0000"/>
<circle cx="476.67" cy="139.00" r="2.58" fill="#ff0000"/>
<circle cx="482.62" cy="137.40" r="2.58" fill="#ff0000"/>
<circle cx="488.56" cy="134.30" r="2.58" fill="#ff0000"/>
<circle cx="494.51" cy="131.20" r="2.58" fill="#ff0000"/>
<circle cx="500.45" cy="129.90" r="2.58" fill="#ff0000"/>
<circle cx="506.40" cy="127.90" r="2.58" fill="#ff0000"/>
<circle cx="512.35" cy="122.90" r="2.58" fill="#ff0000"/>
<circle cx="518.29" cy="118.60" r="2.58" fill="#ff0000"/>
<circle cx="524.23" cy="113.50" r="2.58" fill="#ff0000"/>
<circle cx="530.18" cy="111.40" r="2.58" fill="#ff0000"/>
<circle cx="536.12" cy="108.20" r="2.58" fill="#ff0000"/>
<circle cx="542.07" cy="101.50" r="2.58" fill="#ff0000"/>
<circle cx="548.01" cy="98.40" r="2.58" fill="#ff0000"/>
<circle cx="553.96" cy="95.60" r="2.58" fill="#ff0000"/>
<circle cx="559.90" cy="94.10" r="2.58" fill="#ff0000"/>
<circle cx="565.85" cy="93.60" r="2.58" fill="#ff0000"/>
<circle cx="571.79" cy="91.90" r="2.58" fill="#ff0000"/>
<circle cx="577.74" cy="88.40" r="2.58" fill="#ff0000"/>
<circle cx="583.68" cy="86.70" r="2.58" fill="#ff0000"/>
<circle cx="589.63" cy="85.20" r="2.58" fill="#ff0000"/>
<circle cx="595.57" cy="84.30" r="2.58" fill="#ff0000"/>
<circle cx="601.52" cy="82.00" r="2.58" fill="#ff0000"/>
<circle cx="607.46" cy="80.60" r="2.58" fill="#ff0000"/>
<circle cx="613.41" cy="78.90" r="2.58" fill="#ff0000"/>
<circle cx="619.35" cy="76.40" r="2.58" fill="#ff0000"/>
<circle cx="625.30" cy="74.00" r="2.58" fill="#ff0000"/>
<path d="M387.50,190.00 L393.44,187.50 L399.39,182.60 L405.33,178.50 L411.28,176.50 L417.23,173.50 L423.17,170.00 L429.12,168.30 L435.06,167.50 L441.00,164.60 L446.95,160.00 L452.89,156.70 L458.84,153.60 L464.78,147.50 L470.73,143.50 L476.67,137.40 L482.62,130.20 L488.56,126.20 L494.51,122.80 L500.45,120.60 L506.40,115.50 L512.35,110.40 L518.29,104.50 L524.23,100.20 L530.18,96.50 L536.12,94.10 L542.07,90.10 L548.01,85.60 L553.96,81.30 L559.90,79.90 L565.85,78.50 L571.79,75.60 L577.74,72.80 L583.68,66.00 L589.63,62.00 L595.57,57.50 L601.52,57.80 L607.46,55.80 L613.41,54.90 L619.35,50.30 L625.30,45.00" fill="none" stroke="#0000ff" stroke-width="1.6" stroke-linejoin="round"/>
<polygon points="387.50,186.59 390.45,191.71 384.55,191.71" fill="#0000ff"/>
<polygon points="393.44,184.09 396.40,189.21 390.49,189.21" fill="#0000ff"/>
<polygon points="399.39,179.19 402.34,184.31 396.44,184.31" fill="#0000ff"/>
<polygon points="405.33,175.09 408.29,180.21 402.38,180.21" fill="#0000ff"/>
<polygon points="411.28,173.09 414.23,178.21 408.33,178.21" fill="#0000ff"/>
<polygon points="417.23,170.09 420.18,175.21 414.27,175.21" fill="#0000ff"/>
<polygon points="423.17,166.59 426.12,171.71 420.22,171.71" fill="#0000ff"/>
<polygon points="429.12,164.89 432.07,170.01 426.16,170.01" fill="#0000ff"/>
<polygon points="435.06,164.09 438.01,169.21 432.11,169.21" fill="#0000ff"/>
<polygon points="441.00,161.19 443.96,166.31 438.05,166.31" fill="#0000ff"/>
<polygon points="446.95,156.59 449.90,161.71 444.00,161.71" fill="#0000ff"/>
<polygon points="452.89,153.29 455.85,158.41 449.94,158.41" fill="#0000ff"/>
<polygon points="458.84,150.19 461.79,155.31 455.89,155.31" fill="#0000ff"/>
<polygon points="464.78,144.09 467.74,149.21 461.83,149.21" fill="#0000ff"/>
<polygon points="470.73,140.09 473.68,145.21 467.78,145.21" fill="#0000ff"/>
<polygon points="476.67,133.99 479.63,139.11 473.72,139.11" fill="#0000ff"/>
<polygon points="482.62,126.79 485.57,131.91 479.67,131.91" fill="#0000ff"/>
<polygon points="488.56,122.79 491.52,127.91 485.61,127.91" fill="#0000ff"/>
<polygon points="494.51,119.39 497.46,124.50 491.56,124.50" fill="#0000ff"/>
<polygon points="500.45,117.19 503.41,122.30 497.50,122.30" fill="#0000ff"/>
<polygon points="506.40,112.09 509.35,117.20 503.45,117.20" fill="#0000ff"/>
<polygon points="512.35,106.99 515.30,112.11 509.39,112.11" fill="#0000ff"/>
<polygon points="518.29,101.09 521.24,106.20 515.34,106.20" fill="#0000ff"/>
<polygon points="524.23,96.79 527.19,101.91 521.28,101.91" fill="#0000ff"/>
<polygon points="530.18,93.09 533.13,98.20 527.23,98.20" fill="#0000ff"/>
<polygon points="536.12,90.69 539.08,95.80 533.17,95.80" fill="#0000ff"/>
<polygon points="542.07,86.69 545.02,91.80 539.12,91.80" fill="#0000ff"/>
<polygon points="548.01,82.19 550.97,87.30 545.06,87.30" fill="#0000ff"/>
<polygon points="553.96,77.89 556.91,83.00 551.01,83.00" fill="#0000ff"/>
<polygon points="559.90,76.49 562.86,81.61 556.95,81.61" fill="#0000ff"/>
<polygon points="565.85,75.09 568.80,80.20 562.90,80.20" fill="#0000ff"/>
<polygon points="571.79,72.19 574.75,77.30 568.84,77.30" fill="#0000ff"/>
<polygon points="577.74,69.39 580.69,74.50 574.79,74.50" fill="#0000ff"/>
<polygon points="583.68,62.59 586.64,67.70 580.73,67.70" fill="#0000ff"/>
<polygon points="589.63,58.59 592.58,63.70 586.68,63.70" fill="#0000ff"/>
<polygon points="595.57,54.09 598.53,59.20 592.62,59.20" fill="#0000ff"/>
<polygon points="601.52,54.39 604.47,59.50 598.57,59.50" fill="#0000ff"/>
<polygon points="607.46,52.39 610.42,57.50 604.51,57.50" fill="#0000ff"/>
<polygon points="613.41,51.49 616.36,56.60 610.46,56.60" fill="#0000ff"/>
<polygon points="619.35,46.89 622.31,52.00 616.40,52.00" fill="#0000ff"/>
<polygon points="625.30,41.59 628.25,46.70 622.35,46.70" fill="#0000ff"/>
<path d="M387.50,192.00 L393.44,187.70 L399.39,181.60 L405.33,174.50 L411.28,169.00 L417.23,161.50 L423.17,159.80 L429.12,157.80 L435.06,154.50 L441.00,152.00 L446.95,146.50 L452.89,145.90 L458.84,145.10 L464.78,143.50 L470.73,139.00 L476.67,134.30 L482.62,131.30 L488.56,129.20 L494.51,128.30 L500.45,126.00 L506.40,121.60 L512.35,111.50 L518.29,105.50 L524.23,101.30 L530.18,100.00 L536.12,98.00 L542.07,95.00 L548.01,90.90 L553.96,86.00 L559.90,82.70 L565.85,82.70 L571.79,77.00 L577.74,74.20 L583.68,71.00 L589.63,67.40 L595.57,67.20 L601.52,62.70 L607.46,59.00 L613.41,54.00 L619.35,49.60 L625.30,39.00" fill="none" stroke="#ff00ff" stroke-width="1.6" stroke-linejoin="round"/>
<polygon points="387.50,195.41 384.55,190.29 390.45,190.29" fill="#ff00ff"/>
<polygon points="393.44,191.11 390.49,185.99 396.40,185.99" fill="#ff00ff"/>
<polygon points="399.39,185.01 396.44,179.89 402.34,179.89" fill="#ff00ff"/>
<polygon points="405.33,177.91 402.38,172.79 408.29,172.79" fill="#ff00ff"/>
<polygon points="411.28,172.41 408.33,167.29 414.23,167.29" fill="#ff00ff"/>
<polygon points="417.23,164.91 414.27,159.79 420.18,159.79" fill="#ff00ff"/>
<polygon points="423.17,163.21 420.22,158.09 426.12,158.09" fill="#ff00ff"/>
<polygon points="429.12,161.21 426.16,156.09 432.07,156.09" fill="#ff00ff"/>
<polygon points="435.06,157.91 432.11,152.79 438.01,152.79" fill="#ff00ff"/>
<polygon points="441.00,155.41 438.05,150.29 443.96,150.29" fill="#ff00ff"/>
<polygon points="446.95,149.91 444.00,144.79 449.90,144.79" fill="#ff00ff"/>
<polygon points="452.89,149.31 449.94,144.19 455.85,144.19" fill="#ff00ff"/>
<polygon points="458.84,148.51 455.89,143.39 461.79,143.39" fill="#ff00ff"/>
<polygon points="464.78,146.91 461.83,141.79 467.74,141.79" fill="#ff00ff"/>
<polygon points="470.73,142.41 467.78,137.29 473.68,137.29" fill="#ff00ff"/>
<polygon points="476.67,137.71 473.72,132.59 479.63,132.59" fill="#ff00ff"/>
<polygon points="482.62,134.71 479.67,129.59 485.57,129.59" fill="#ff00ff"/>
<polygon points="488.56,132.61 485.61,127.49 491.52,127.49" fill="#ff00ff"/>
<polygon points="494.51,131.71 491.56,126.60 497.46,126.60" fill="#ff00ff"/>
<polygon points="500.45,129.41 497.50,124.30 503.41,124.30" fill="#ff00ff"/>
<polygon points="506.40,125.01 503.45,119.89 509.35,119.89" fill="#ff00ff"/>
<polygon points="512.35,114.91 509.39,109.80 515.30,109.80" fill="#ff00ff"/>
<polygon points="518.29,108.91 515.34,103.80 521.24,103.80" fill="#ff00ff"/>
<polygon points="524.23,104.71 521.28,99.59 527.19,99.59" fill="#ff00ff"/>
<polygon points="530.18,103.41 527.23,98.30 533.13,98.30" fill="#ff00ff"/>
<polygon points="536.12,101.41 533.17,96.30 539.08,96.30" fill="#ff00ff"/>
<polygon points="542.07,98.41 539.12,93.30 545.02,93.30" fill="#ff00ff"/>
<polygon points="548.01,94.31 545.06,89.20 550.97,89.20" fill="#ff00ff"/>
<polygon points="553.96,89.41 551.01,84.30 556.91,84.30" fill="#ff00ff"/>
<polygon points="559.90,86.11 556.95,81.00 562.86,81.00" fill="#ff00ff"/>
<polygon points="565.85,86.11 562.90,81.00 568.80,81.00" fill="#ff00ff"/>
<polygon points="571.79,80.41 568.84,75.30 574.75,75.30" fill="#ff00ff"/>
<polygon points="577.74,77.61 574.79,72.50 580.69,72.50" fill="#ff00ff"/>
<polygon points="583.68,74.41 580.73,69.30 586.64,69.30" fill="#ff00ff"/>
<polygon points="589.63,70.81 586.68,65.70 592.58,65.70" fill="#ff00ff"/>
<polygon points="595.57,70.61 592.62,65.50 598.53,65.50" fill="#ff00ff"/>
<polygon points="601.52,66.11 598.57,61.00 604.47,61.00" fill="#ff00ff"/>
<polygon points="607.46,62.41 604.51,57.30 610.42,57.30" fill="#ff00ff"/>
<polygon points="613.41,57.41 610.46,52.30 616.36,52.30" fill="#ff00ff"/>
<polygon points="619.35,53.01 616.40,47.90 622.31,47.90" fill="#ff00ff"/>
<polygon points="625.30,42.41 622.35,37.30 628.25,37.30" fill="#ff00ff"/>
<path d="M387.50,186.00 L393.44,180.60 L399.39,175.50 L405.33,170.40 L411.28,166.30 L417.23,162.90 L423.17,158.60 L429.12,153.70 L435.06,151.30 L441.00,150.00 L446.95,146.40 L452.89,141.00 L458.84,136.30 L464.78,133.70 L470.73,130.90 L476.67,128.80 L482.62,125.60 L488.56,119.50 L494.51,112.80 L500.45,106.50 L506.40,102.00 L512.35,97.80 L518.29,95.00 L524.23,92.70 L530.18,89.30 L536.12,87.00 L542.07,83.80 L548.01,79.30 L553.96,76.50 L559.90,73.60 L565.85,69.90 L571.79,67.90 L577.74,65.60 L583.68,62.00 L589.63,59.30 L595.57,57.80 L601.52,57.30 L607.46,53.20 L613.41,48.20 L619.35,43.00 L625.30,37.10" fill="none" stroke="#008000" stroke-width="1.6" stroke-linejoin="round"/>
<polygon points="387.50,182.70 390.80,186.00 387.50,189.30 384.20,186.00" fill="#008000"/>
<polygon points="393.44,177.30 396.75,180.60 393.44,183.90 390.14,180.60" fill="#008000"/>
<polygon points="399.39,172.20 402.69,175.50 399.39,178.80 396.09,175.50" fill="#008000"/>
<polygon points="405.33,167.10 408.63,170.40 405.33,173.70 402.03,170.40" fill="#008000"/>
<polygon points="411.28,163.00 414.58,166.30 411.28,169.60 407.98,166.30" fill="#008000"/>
<polygon points="417.23,159.60 420.53,162.90 417.23,166.20 413.93,162.90" fill="#008000"/>
<polygon points="423.17,155.30 426.47,158.60 423.17,161.90 419.87,158.60" fill="#008000"/>
<polygon points="429.12,150.40 432.42,153.70 429.12,157.00 425.81,153.70" fill="#008000"/>
<polygon points="435.06,148.00 438.36,151.30 435.06,154.60 431.76,151.30" fill="#008000"/>
<polygon points="441.00,146.70 444.31,150.00 441.00,153.30 437.70,150.00" fill="#008000"/>
<polygon points="446.95,143.10 450.25,146.40 446.95,149.70 443.65,146.40" fill="#008000"/>
<polygon points="452.89,137.70 456.19,141.00 452.89,144.30 449.59,141.00" fill="#008000"/>
<polygon points="458.84,133.00 462.14,136.30 458.84,139.60 455.54,136.30" fill="#008000"/>
<polygon points="464.78,130.40 468.08,133.70 464.78,137.00 461.48,133.70" fill="#008000"/>
<polygon points="470.73,127.60 474.03,130.90 470.73,134.20 467.43,130.90" fill="#008000"/>
<polygon points="476.67,125.50 479.97,128.80 476.67,132.10 473.37,128.80" fill="#008000"/>
<polygon points="482.62,122.30 485.92,125.60 482.62,128.90 479.32,125.60" fill="#008000"/>
<polygon points="488.56,116.20 491.87,119.50 488.56,122.80 485.26,119.50" fill="#008000"/>
<polygon points="494.51,109.50 497.81,112.80 494.51,116.10 491.21,112.80" fill="#008000"/>
<polygon points="500.45,103.20 503.75,106.50 500.45,109.80 497.15,106.50" fill="#008000"/>
<polygon points="506.40,98.70 509.70,102.00 506.40,105.30 503.10,102.00" fill="#008000"/>
<polygon points="512.35,94.50 515.64,97.80 512.35,101.10 509.05,97.80" fill="#008000"/>
<polygon points="518.29,91.70 521.59,95.00 518.29,98.30 514.99,95.00" fill="#008000"/>
<polygon points="524.23,89.40 527.53,92.70 524.23,96.00 520.93,92.70" fill="#008000"/>
<polygon points="530.18,86.00 533.48,89.30 530.18,92.60 526.88,89.30" fill="#008000"/>
<polygon points="536.12,83.70 539.42,87.00 536.12,90.30 532.83,87.00" fill="#008000"/>
<polygon points="542.07,80.50 545.37,83.80 542.07,87.10 538.77,83.80" fill="#008000"/>
<polygon points="548.01,76.00 551.31,79.30 548.01,82.60 544.72,79.30" fill="#008000"/>
<polygon points="553.96,73.20 557.26,76.50 553.96,79.80 550.66,76.50" fill="#008000"/>
<polygon points="559.90,70.30 563.20,73.60 559.90,76.90 556.61,73.60" fill="#008000"/>
<polygon points="565.85,66.60 569.15,69.90 565.85,73.20 562.55,69.90" fill="#008000"/>
<polygon points="571.79,64.60 575.09,67.90 571.79,71.20 568.50,67.90" fill="#008000"/>
<polygon points="577.74,62.30 581.04,65.60 577.74,68.90 574.44,65.60" fill="#008000"/>
<polygon points="583.68,58.70 586.98,62.00 583.68,65.30 580.38,62.00" fill="#008000"/>
<polygon points="589.63,56.00 592.93,59.30 589.63,62.60 586.33,59.30" fill="#008000"/>
<polygon points="595.57,54.50 598.87,57.80 595.57,61.10 592.27,57.80" fill="#008000"/>
<polygon points="601.52,54.00 604.82,57.30 601.52,60.60 598.22,57.30" fill="#008000"/>
<polygon points="607.46,49.90 610.76,53.20 607.46,56.50 604.16,53.20" fill="#008000"/>
<polygon points="613.41,44.90 616.71,48.20 613.41,51.50 610.11,48.20" fill="#008000"/>
<polygon points="619.35,39.70 622.65,43.00 619.35,46.30 616.05,43.00" fill="#008000"/>
<polygon points="625.30,33.80 628.60,37.10 625.30,40.40 622.00,37.10" fill="#008000"/></g>
<rect x="39.5" y="17.8" width="233.70" height="191.70" fill="none" stroke="#383838" stroke-width="1.2"/>
<line x1="39.50" y1="209.5" x2="39.50" y2="206.0" stroke="#383838" stroke-width="1"/>
<text x="39.50" y="223.90" text-anchor="middle" font-family="Liberation Serif, serif" font-size="12">0</text>
<line x1="86.24" y1="209.5" x2="86.24" y2="206.0" stroke="#383838" stroke-width="1"/>
<text x="86.24" y="223.90" text-anchor="middle" font-family="Liberation Serif, serif" font-size="12">200</text>
<line x1="132.98" y1="209.5" x2="132.98" y2="206.0" stroke="#383838" stroke-width="1"/>
<text x="132.98" y="223.90" text-anchor="middle" font-family="Liberation Serif, serif" font-size="12">400</text>
<line x1="179.72" y1="209.5" x2="179.72" y2="206.0" stroke="#383838" stroke-width="1"/>
<text x="179.72" y="223.90" text-anchor="middle" font-family="Liberation Serif, serif" font-size="12">600</text>
<line x1="226.46" y1="209.5" x2="226.46" y2="206.0" stroke="#383838" stroke-width="1"/>
<text x="226.46" y="223.90" text-anchor="middle" font-family="Liberation Serif, serif" font-size="12">800</text>
<line x1="273.20" y1="209.5" x2="273.20" y2="206.0" stroke="#383838" stroke-width="1"/>
<text x="273.20" y="223.90" text-anchor="middle" font-family="Liberation Serif, serif" font-size="12">1000</text>
<line x1="62.87" y1="209.5" x2="62.87" y2="207.5" stroke="#383838" stroke-width="1"/>
<line x1="109.61" y1="209.5" x2="109.61" y2="207.5" stroke="#383838" stroke-width="1"/>
<line x1="156.35" y1="209.5" x2="156.35" y2="207.5" stroke="#383838" stroke-width="1"/>
<line x1="203.09" y1="209.5" x2="203.09" y2="207.5" stroke="#383838" stroke-width="1"/>
<line x1="249.83" y1="209.5" x2="249.83" y2="207.5" stroke="#383838" stroke-width="1"/>
<line x1="39.5" y1="209.50" x2="43.8" y2="209.50" stroke="#383838" stroke-width="1"/>
<text x="35.20" y="213.90" text-anchor="end" font-family="Liberation Serif, serif" font-size="12">4.8</text>
<line x1="39.5" y1="173.00" x2="43.8" y2="173.00" stroke="#383838" stroke-width="1"/>
<text x="35.20" y="177.40" text-anchor="end" font-family="Liberation Serif, serif" font-size="12">5.0</text>
<line x1="39.5" y1="136.50" x2="43.8" y2="136.50" stroke="#383838" stroke-width="1"/>
<text x="35.20" y="140.90" text-anchor="end" font-family="Liberation Serif, serif" font-size="12">5.2</text>
<line x1="39.5" y1="100.00" x2="43.8" y2="100.00" stroke="#383838" stroke-width="1"/>
<text x="35.20" y="104.40" text-anchor="end" font-family="Liberation Serif, serif" font-size="12">5.4</text>
<line x1="39.5" y1="63.50" x2="43.8" y2="63.50" stroke="#383838" stroke-width="1"/>
<text x="35.20" y="67.90" text-anchor="end" font-family="Liberation Serif, serif" font-size="12">5.6</text>
<line x1="39.5" y1="27.00" x2="43.8" y2="27.00" stroke="#383838" stroke-width="1"/>
<text x="35.20" y="31.40" text-anchor="end" font-family="Liberation Serif, serif" font-size="12">5.8</text>
<line x1="39.5" y1="191.25" x2="41.5" y2="191.25" stroke="#383838" stroke-width="1"/>
<line x1="39.5" y1="154.75" x2="41.5" y2="154.75" stroke="#383838" stroke-width="1"/>
<line x1="39.5" y1="118.25" x2="41.5" y2="118.25" stroke="#383838" stroke-width="1"/>
<line x1="39.5" y1="81.75" x2="41.5" y2="81.75" stroke="#383838" stroke-width="1"/>
<line x1="39.5" y1="45.25" x2="41.5" y2="45.25" stroke="#383838" stroke-width="1"/>
<text x="156.35" y="242.9" text-anchor="middle" font-family="Liberation Serif, serif" font-size="12.55">time(ps)</text><rect x="387.5" y="17.5" width="237.80" height="192.00" fill="none" stroke="#383838" stroke-width="1.2"/>
<line x1="387.50" y1="209.5" x2="387.50" y2="206.0" stroke="#383838" stroke-width="1"/>
<text x="387.50" y="223.90" text-anchor="middle" font-family="Liberation Serif, serif" font-size="12">0</text>
<line x1="435.06" y1="209.5" x2="435.06" y2="206.0" stroke="#383838" stroke-width="1"/>
<text x="435.06" y="223.90" text-anchor="middle" font-family="Liberation Serif, serif" font-size="12">200</text>
<line x1="482.62" y1="209.5" x2="482.62" y2="206.0" stroke="#383838" stroke-width="1"/>
<text x="482.62" y="223.90" text-anchor="middle" font-family="Liberation Serif, serif" font-size="12">400</text>
<line x1="530.18" y1="209.5" x2="530.18" y2="206.0" stroke="#383838" stroke-width="1"/>
<text x="530.18" y="223.90" text-anchor="middle" font-family="Liberation Serif, serif" font-size="12">600</text>
<line x1="577.74" y1="209.5" x2="577.74" y2="206.0" stroke="#383838" stroke-width="1"/>
<text x="577.74" y="223.90" text-anchor="middle" font-family="Liberation Serif, serif" font-size="12">800</text>
<line x1="625.30" y1="209.5" x2="625.30" y2="206.0" stroke="#383838" stroke-width="1"/>
<text x="625.30" y="223.90" text-anchor="middle" font-family="Liberation Serif, serif" font-size="12">1000</text>
<line x1="411.28" y1="209.5" x2="411.28" y2="207.5" stroke="#383838" stroke-width="1"/>
<line x1="458.84" y1="209.5" x2="458.84" y2="207.5" stroke="#383838" stroke-width="1"/>
<line x1="506.40" y1="209.5" x2="506.40" y2="207.5" stroke="#383838" stroke-width="1"/>
<line x1="553.96" y1="209.5" x2="553.96" y2="207.5" stroke="#383838" stroke-width="1"/>
<line x1="601.52" y1="209.5" x2="601.52" y2="207.5" stroke="#383838" stroke-width="1"/>
<line x1="387.5" y1="209.50" x2="391.8" y2="209.50" stroke="#383838" stroke-width="1"/>
<text x="383.20" y="213.90" text-anchor="end" font-family="Liberation Serif, serif" font-size="12">4.8</text>
<line x1="387.5" y1="191.20" x2="391.8" y2="191.20" stroke="#383838" stroke-width="1"/>
<text x="383.20" y="195.60" text-anchor="end" font-family="Liberation Serif, serif" font-size="12">5.0</text>
<line x1="387.5" y1="172.90" x2="391.8" y2="172.90" stroke="#383838" stroke-width="1"/>
<text x="383.20" y="177.30" text-anchor="end" font-family="Liberation Serif, serif" font-size="12">5.2</text>
<line x1="387.5" y1="154.60" x2="391.8" y2="154.60" stroke="#383838" stroke-width="1"/>
<text x="383.20" y="159.00" text-anchor="end" font-family="Liberation Serif, serif" font-size="12">5.4</text>
<line x1="387.5" y1="136.30" x2="391.8" y2="136.30" stroke="#383838" stroke-width="1"/>
<text x="383.20" y="140.70" text-anchor="end" font-family="Liberation Serif, serif" font-size="12">5.6</text>
<line x1="387.5" y1="118.00" x2="391.8" y2="118.00" stroke="#383838" stroke-width="1"/>
<text x="383.20" y="122.40" text-anchor="end" font-family="Liberation Serif, serif" font-size="12">5.8</text>
<line x1="387.5" y1="99.70" x2="391.8" y2="99.70" stroke="#383838" stroke-width="1"/>
<text x="383.20" y="104.10" text-anchor="end" font-family="Liberation Serif, serif" font-size="12">6.0</text>
<line x1="387.5" y1="81.40" x2="391.8" y2="81.40" stroke="#383838" stroke-width="1"/>
<text x="383.20" y="85.80" text-anchor="end" font-family="Liberation Serif, serif" font-size="12">6.2</text>
<line x1="387.5" y1="63.10" x2="391.8" y2="63.10" stroke="#383838" stroke-width="1"/>
<text x="383.20" y="67.50" text-anchor="end" font-family="Liberation Serif, serif" font-size="12">6.4</text>
<line x1="387.5" y1="44.80" x2="391.8" y2="44.80" stroke="#383838" stroke-width="1"/>
<text x="383.20" y="49.20" text-anchor="end" font-family="Liberation Serif, serif" font-size="12">6.6</text>
<line x1="387.5" y1="26.50" x2="391.8" y2="26.50" stroke="#383838" stroke-width="1"/>
<text x="383.20" y="30.90" text-anchor="end" font-family="Liberation Serif, serif" font-size="12">6.8</text>
<line x1="387.5" y1="200.35" x2="389.5" y2="200.35" stroke="#383838" stroke-width="1"/>
<line x1="387.5" y1="182.05" x2="389.5" y2="182.05" stroke="#383838" stroke-width="1"/>
<line x1="387.5" y1="163.75" x2="389.5" y2="163.75" stroke="#383838" stroke-width="1"/>
<line x1="387.5" y1="145.45" x2="389.5" y2="145.45" stroke="#383838" stroke-width="1"/>
<line x1="387.5" y1="127.15" x2="389.5" y2="127.15" stroke="#383838" stroke-width="1"/>
<line x1="387.5" y1="108.85" x2="389.5" y2="108.85" stroke="#383838" stroke-width="1"/>
<line x1="387.5" y1="90.55" x2="389.5" y2="90.55" stroke="#383838" stroke-width="1"/>
<line x1="387.5" y1="72.25" x2="389.5" y2="72.25" stroke="#383838" stroke-width="1"/>
<line x1="387.5" y1="53.95" x2="389.5" y2="53.95" stroke="#383838" stroke-width="1"/>
<line x1="387.5" y1="35.65" x2="389.5" y2="35.65" stroke="#383838" stroke-width="1"/>
<text x="506.40" y="242.9" text-anchor="middle" font-family="Liberation Serif, serif" font-size="12.55">time(ps)</text>
<text x="281" y="29.6" font-family="Liberation Serif, serif" font-size="10" letter-spacing="-0.12">Grain-size(nm<tspan dy="-4.2" dx="0.2" font-size="5.5">2</tspan><tspan dy="4.2" dx="0.2">)</tspan></text>
<line x1="280.4" y1="38.40" x2="298.5" y2="38.40" stroke="#000000" stroke-width="1.8"/>
<rect x="287.37" y="36.37" width="4.06" height="4.06" fill="#000000"/>
<text x="301.3" y="41.80" font-family="Liberation Serif, serif" font-size="10">graphene</text>
<line x1="280.4" y1="50.67" x2="298.5" y2="50.67" stroke="#ff0000" stroke-width="1.8"/>
<circle cx="289.40" cy="50.67" r="2.44" fill="#ff0000"/>
<text x="301.3" y="54.07" font-family="Liberation Serif, serif" font-size="10">100.0</text>
<line x1="280.4" y1="62.94" x2="298.5" y2="62.94" stroke="#00ff00" stroke-width="1.8"/>
<polygon points="289.40,59.72 292.19,64.55 286.61,64.55" fill="#00ff00"/>
<text x="301.3" y="66.34" font-family="Liberation Serif, serif" font-size="10">50.0</text>
<line x1="280.4" y1="75.21" x2="298.5" y2="75.21" stroke="#0000ff" stroke-width="1.8"/>
<polygon points="289.40,78.43 286.61,73.60 292.19,73.60" fill="#0000ff"/>
<text x="301.3" y="78.61" font-family="Liberation Serif, serif" font-size="10">25.0</text>
<line x1="280.4" y1="87.48" x2="298.5" y2="87.48" stroke="#00ffff" stroke-width="1.8"/>
<polygon points="289.40,84.36 292.52,87.48 289.40,90.60 286.28,87.48" fill="#00ffff"/>
<text x="301.3" y="90.88" font-family="Liberation Serif, serif" font-size="10">16.67</text>
<line x1="280.4" y1="99.75" x2="298.5" y2="99.75" stroke="#ff00ff" stroke-width="1.8"/>
<polygon points="286.18,99.75 291.01,96.96 291.01,102.54" fill="#ff00ff"/>
<text x="301.3" y="103.15" font-family="Liberation Serif, serif" font-size="10">12.50</text>
<line x1="280.4" y1="112.02" x2="298.5" y2="112.02" stroke="#ffff00" stroke-width="1.8"/>
<polygon points="292.62,112.02 287.79,114.81 287.79,109.23" fill="#ffff00"/>
<text x="301.3" y="115.42" font-family="Liberation Serif, serif" font-size="10">10.0</text>
<line x1="280.4" y1="124.29" x2="298.5" y2="124.29" stroke="#808000" stroke-width="1.8"/>
<polygon points="291.65,125.59 289.40,126.89 287.15,125.59 287.15,122.99 289.40,121.69 291.65,122.99" fill="#808000"/>
<text x="301.3" y="127.69" font-family="Liberation Serif, serif" font-size="10">6.25</text>
<text x="395.2" y="30.6" font-family="Liberation Serif, serif" font-size="11.7">The ratio of hydroxyl groups</text>
<line x1="406.2" y1="41.10" x2="433.2" y2="41.10" stroke="#000000" stroke-width="1.5"/>
<rect x="417.49" y="38.99" width="4.21" height="4.21" fill="#000000"/>
<text x="436" y="45.30" font-family="Liberation Serif, serif" font-size="11.8">0/5%</text>
<line x1="406.2" y1="55.80" x2="433.2" y2="55.80" stroke="#ff0000" stroke-width="1.5"/>
<circle cx="419.60" cy="55.80" r="2.54" fill="#ff0000"/>
<text x="436" y="60.00" font-family="Liberation Serif, serif" font-size="11.8">5%/5%</text>
<line x1="406.2" y1="70.50" x2="433.2" y2="70.50" stroke="#0000ff" stroke-width="1.5"/>
<polygon points="419.60,67.15 422.50,72.17 416.70,72.17" fill="#0000ff"/>
<text x="436" y="74.70" font-family="Liberation Serif, serif" font-size="11.8">10%/5%</text>
<line x1="406.2" y1="85.20" x2="433.2" y2="85.20" stroke="#ff00ff" stroke-width="1.5"/>
<polygon points="419.60,88.55 416.70,83.53 422.50,83.53" fill="#ff00ff"/>
<text x="436" y="89.40" font-family="Liberation Serif, serif" font-size="11.8">15%/5%</text>
<line x1="406.2" y1="99.90" x2="433.2" y2="99.90" stroke="#008000" stroke-width="1.5"/>
<polygon points="419.60,96.66 422.84,99.90 419.60,103.14 416.36,99.90" fill="#008000"/>
<text x="436" y="104.10" font-family="Liberation Serif, serif" font-size="11.8">20%/5%</text>
</svg>
</body></html>
